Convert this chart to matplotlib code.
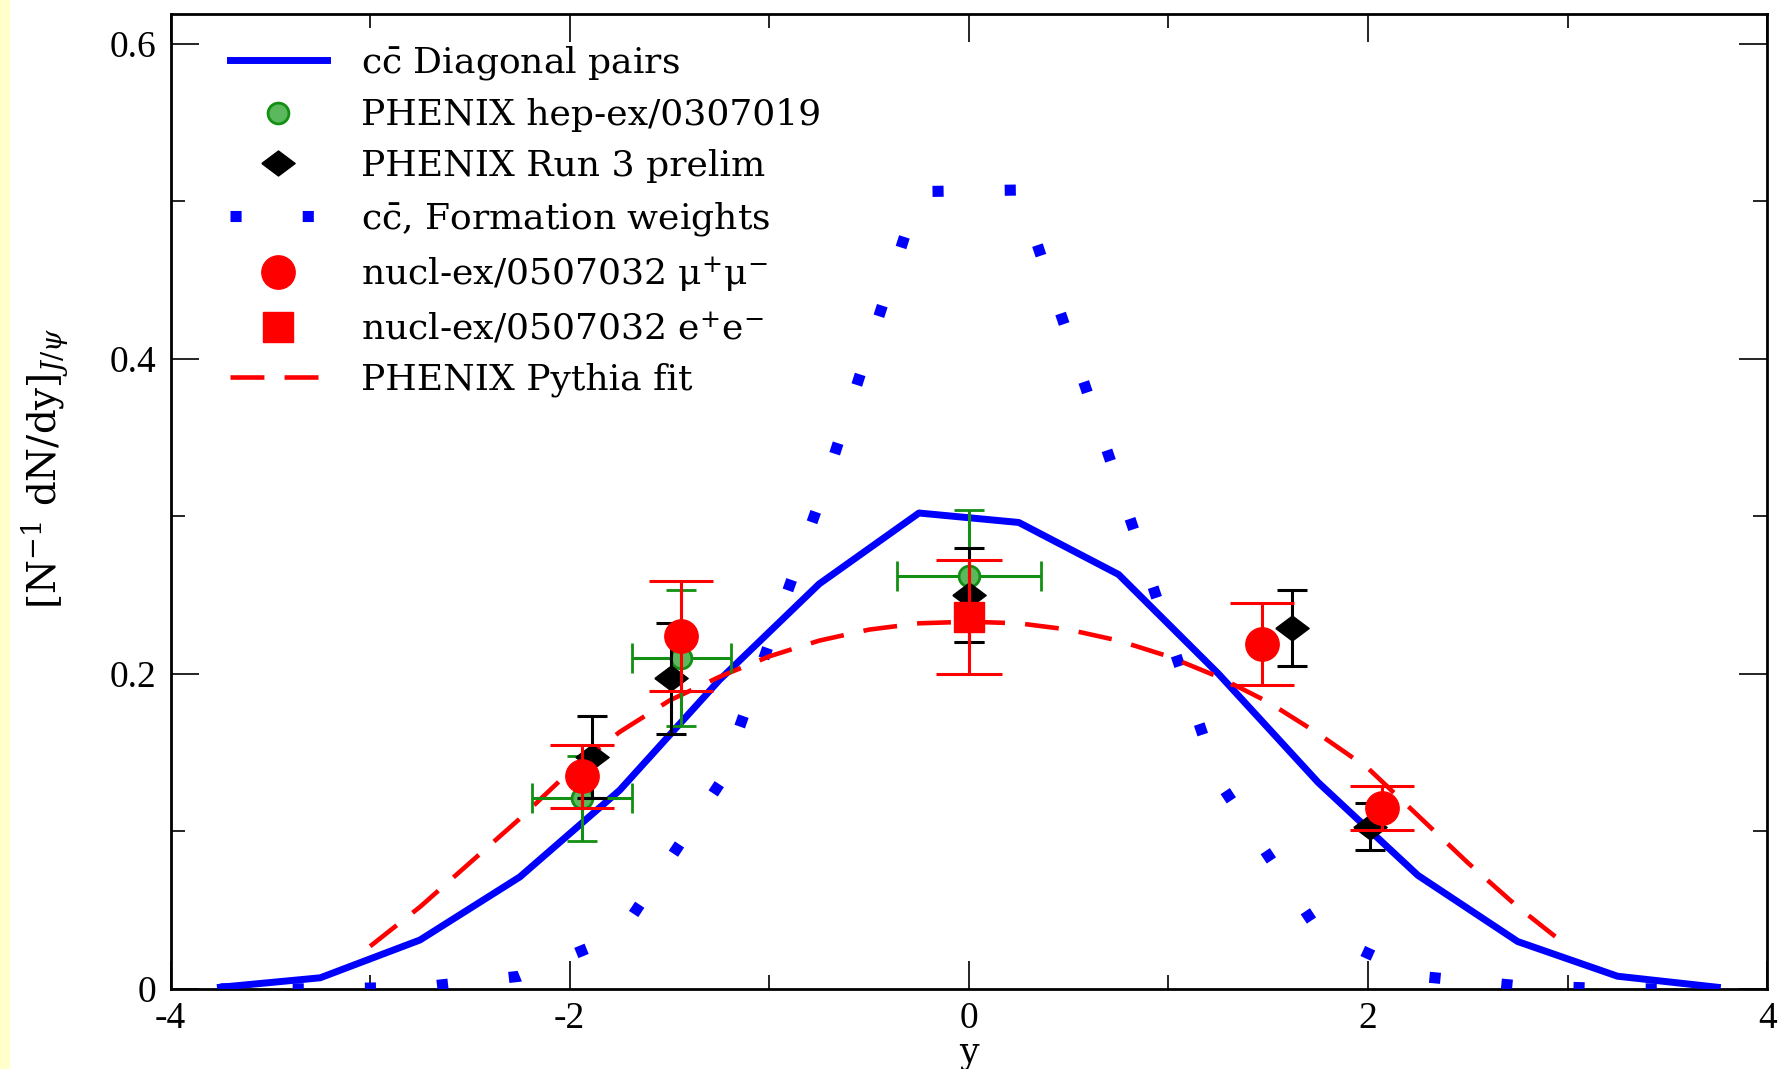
import matplotlib
matplotlib.use("Agg")
import matplotlib.pyplot as plt
import matplotlib.ticker as ticker
from matplotlib.lines import Line2D
from matplotlib.patches import Rectangle

plt.rcParams["font.family"] = "DejaVu Serif"
plt.rcParams["mathtext.fontset"] = "dejavuserif"
plt.rcParams["axes.unicode_minus"] = False

# ---------------------------------------------------------------------------
# Data
# ---------------------------------------------------------------------------

y_grid = [-3.75, -3.25, -2.75, -2.25, -1.75, -1.25, -0.75, -0.25,
          0.25, 0.75, 1.25, 1.75, 2.25, 2.75, 3.25, 3.75]
diag_pairs = [0.001, 0.007, 0.031, 0.071, 0.126, 0.196, 0.257, 0.302,
              0.296, 0.263, 0.200, 0.131, 0.072, 0.030, 0.008, 0.001]
formation = [0.0, 0.0, 0.001, 0.008, 0.034, 0.130, 0.309, 0.506,
             0.507, 0.320, 0.132, 0.037, 0.008, 0.002, 0.0, 0.0]

fit_y = [-3.0, -2.75, -2.5, -2.25, -2.0, -1.75, -1.5, -1.25, -1.0, -0.75,
         -0.5, -0.25, 0.0, 0.25, 0.5, 0.75, 1.0, 1.25, 1.5, 1.75, 2.0,
         2.25, 2.5, 2.75, 3.0]
pythia_fit = [0.027, 0.052, 0.080, 0.108, 0.138, 0.163, 0.183, 0.198,
              0.211, 0.221, 0.228, 0.232, 0.233, 0.232, 0.228, 0.221,
              0.211, 0.198, 0.182, 0.162, 0.140, 0.110, 0.080, 0.052, 0.027]

hep_x = [-1.94, -1.44, 0.0]
hep_val = [0.121, 0.210, 0.262]
hep_xerr = [0.25, 0.25, 0.36]
hep_yerr = [0.027, 0.043, 0.042]

run3_x = [-1.89, -1.49, 0.0, 1.62, 2.01]
run3_val = [0.147, 0.197, 0.250, 0.229, 0.103]
run3_err = [0.026, 0.035, 0.030, 0.024, 0.015]

mumu_x = [-1.94, -1.44, 1.47, 2.07]
mumu_val = [0.135, 0.224, 0.219, 0.115]
mumu_err = [0.020, 0.035, 0.026, 0.014]

ee_x = [0.0]
ee_val = [0.236]
ee_err = [0.036]

BLUE = "#0000ff"
RED = "#ff0000"
GREEN = "#138f13"

# wide diamond like the reference marker
WIDE_DIAMOND = [(-1, 0), (0, 0.75), (1, 0), (0, -0.75), (-1, 0)]

fig = plt.figure(figsize=(17.82, 10.69), dpi=100)
fig.patches.append(Rectangle((0, 0), 9 / 1782, 1, transform=fig.transFigure,
                             color="#ffffcc", zorder=0))
ax = fig.add_axes([0.0957, 0.0750, 0.8960, 0.9123])

ax.plot(y_grid, diag_pairs, color=BLUE, lw=5, zorder=3)
ax.plot(y_grid, formation, color=BLUE, lw=8, dashes=(1, 5.5), zorder=3)
ax.plot(fit_y, pythia_fit, color=RED, lw=3.3, dashes=(7.4, 4.4), zorder=3)

ax.errorbar(hep_x, hep_val, xerr=hep_xerr, yerr=hep_yerr, fmt="o",
            ms=15, mfc="#5cb85c", mec=GREEN, mew=2, ecolor=GREEN,
            elinewidth=2.2, capsize=11, capthick=2.2, zorder=4)
ax.errorbar(run3_x, run3_val, yerr=run3_err, fmt="none", ecolor="black",
            elinewidth=2.2, capsize=11, capthick=2.2, zorder=5)
ax.plot(run3_x, run3_val, ls="none", marker=WIDE_DIAMOND, ms=24,
        color="black", zorder=5)
ax.errorbar(mumu_x, mumu_val, yerr=mumu_err, fmt="o", ms=24, color=RED,
            ecolor=RED, elinewidth=2.2, capsize=23, capthick=2.2, zorder=6)
ax.errorbar(ee_x, ee_val, yerr=ee_err, fmt="s", ms=21, color=RED,
            ecolor=RED, elinewidth=2.2, capsize=24, capthick=2.2, zorder=6)

ax.set_xlim(-4, 4)
ax.set_ylim(0, 0.619)
ax.xaxis.set_major_locator(ticker.MultipleLocator(2))
ax.xaxis.set_minor_locator(ticker.MultipleLocator(1))
ax.yaxis.set_major_locator(ticker.MultipleLocator(0.2))
ax.yaxis.set_minor_locator(ticker.MultipleLocator(0.1))
fmt = ticker.FuncFormatter(lambda v, _: f"{v:g}")
ax.xaxis.set_major_formatter(fmt)
ax.yaxis.set_major_formatter(fmt)
ax.tick_params(which="both", direction="in", top=True, right=True,
               width=1.2, labelsize=27)
ax.tick_params(axis="x", pad=9)
ax.tick_params(axis="y", pad=10)
ax.tick_params(which="major", length=20)
ax.tick_params(which="minor", length=10)
for lab in ax.get_xticklabels() + ax.get_yticklabels():
    lab.set_fontfamily("Liberation Serif")
for spine in ax.spines.values():
    spine.set_linewidth(2)

ax.set_xlabel("y", fontsize=25)
ax.xaxis.set_label_coords(0.5, -0.048)
ax.set_ylabel(r"[N$^{-1}$ dN/dy]$_{J/\psi}$", fontsize=28)
ax.yaxis.set_label_coords(-0.062, 0.534)

handles = [
    Line2D([], [], color=BLUE, lw=5),
    Line2D([], [], ls="none", marker="o", ms=15, mfc="#5cb85c", mec=GREEN, mew=2),
    Line2D([], [], ls="none", marker=WIDE_DIAMOND, ms=24, color="black"),
    Line2D([], [], color=BLUE, lw=8, dashes=(1, 5.5)),
    Line2D([], [], ls="none", marker="o", ms=24, color=RED),
    Line2D([], [], ls="none", marker="s", ms=21, color=RED),
    Line2D([], [], color=RED, lw=3.3, dashes=(7.4, 4.4)),
]
labels = [
    r"c$\bar{\mathrm{c}}$ Diagonal pairs",
    "PHENIX hep-ex/0307019",
    "PHENIX Run 3 prelim",
    r"c$\bar{\mathrm{c}}$, Formation weights",
    r"nucl-ex/0507032 μ$^{+}$μ$^{-}$",
    r"nucl-ex/0507032 e$^{+}$e$^{-}$",
    "PHENIX Pythia fit",
]
ax.legend(handles, labels, loc="upper left", bbox_to_anchor=(0.037, 0.969),
          frameon=False, fontsize=26, handlelength=2.7, handletextpad=0.95,
          labelspacing=0.46, borderpad=0, borderaxespad=0)

fig.savefig("out.png", dpi=100, facecolor="white")
